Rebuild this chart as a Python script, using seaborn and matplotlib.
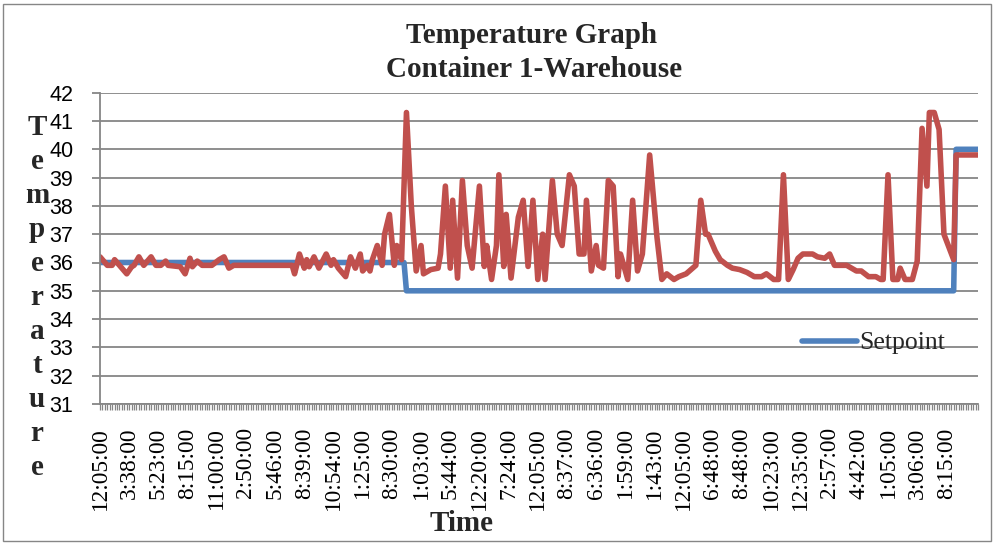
import matplotlib
matplotlib.use("Agg")
import matplotlib.pyplot as plt
from matplotlib.patches import Rectangle
import pandas as pd
import seaborn as sns

# ---- data -------------------------------------------------------------
time_labels = [
    "12:05:00", "3:38:00", "5:23:00", "8:15:00", "11:00:00", "2:50:00",
    "5:46:00", "8:39:00", "10:54:00", "1:25:00", "8:30:00", "1:03:00",
    "5:44:00", "12:20:00", "7:24:00", "12:05:00", "8:37:00", "6:36:00",
    "1:59:00", "1:43:00", "12:05:00", "6:48:00", "8:48:00", "10:23:00",
    "12:35:00", "2:57:00", "4:42:00", "1:05:00", "3:06:00", "8:15:00",
]
n_readings = 362          # readings on the category axis
label_every = 12          # one time label per 12 readings

# setpoint changes (reading number, degrees)
setpoint_reading = [0, 125, 126, 351, 352, 361]
setpoint_temp = [36, 36, 35, 35, 40, 40]

# logged container temperature (reading number, degrees)
temp_reading = [
    0, 3, 5, 6, 8, 11, 13, 14, 16, 18, 21, 23, 25, 27, 28, 33, 35, 37, 38, 40,
    42, 46, 49, 51, 53, 55, 79, 80, 82, 84, 85, 86, 88, 90, 93, 95, 96, 98,
    101, 103, 105, 107, 108, 110, 111, 112, 114, 116, 117, 119, 121, 122, 124,
    126, 128, 130, 132, 133, 136, 139, 140, 142, 144, 145, 147, 149, 151, 153,
    156, 158, 159, 161, 163, 164, 166, 167, 169, 172, 174, 176, 178, 180, 182,
    183, 186, 188, 190, 193, 195, 197, 199, 200, 202, 204, 205, 207, 209, 211,
    213, 214, 217, 219, 221, 223, 226, 229, 231, 233, 236, 238, 241, 245, 247,
    249, 250, 253, 255, 258, 260, 263, 266, 269, 272, 274, 277, 279, 281, 283,
    285, 287, 289, 293, 295, 298, 300, 302, 307, 309, 311, 313, 316, 319, 321,
    322, 324, 326, 328, 329, 331, 334, 336, 338, 340, 341, 343, 345, 347, 351,
    352, 361,
]
temp_value = [
    36.2, 35.9, 35.9, 36.1, 35.9, 35.6, 35.85, 35.9, 36.2, 35.9, 36.2, 35.9,
    35.9, 36.05, 35.9, 35.85, 35.6, 36.15, 35.85, 36.05, 35.9, 35.9, 36.1,
    36.2, 35.8, 35.9, 35.9, 35.6, 36.3, 35.8, 36.1, 35.85, 36.2, 35.8, 36.3,
    35.9, 36.1, 35.8, 35.5, 36.2, 35.8, 36.3, 35.7, 35.9, 35.7, 36.1, 36.6,
    35.9, 37.0, 37.7, 35.9, 36.6, 36.1, 41.3, 38.0, 35.7, 36.6, 35.6, 35.75,
    35.8, 36.3, 38.7, 35.8, 38.2, 35.45, 38.9, 36.6, 35.8, 38.7, 35.86, 36.6,
    35.4, 36.6, 39.1, 35.86, 37.7, 35.45, 37.6, 38.2, 35.86, 38.2, 35.4, 37.0,
    35.4, 38.9, 37.0, 36.6, 39.1, 38.7, 36.3, 36.3, 38.2, 35.7, 36.6, 35.9,
    35.8, 38.9, 38.7, 35.5, 36.3, 35.4, 38.2, 35.7, 36.3, 39.8, 36.9, 35.4,
    35.6, 35.4, 35.5, 35.6, 35.9, 38.2, 37.0, 37.0, 36.4, 36.1, 35.9, 35.8,
    35.75, 35.65, 35.5, 35.5, 35.6, 35.4, 35.4, 39.1, 35.4, 35.75, 36.15, 36.3,
    36.3, 36.2, 36.15, 36.3, 35.9, 35.9, 35.8, 35.7, 35.7, 35.5, 35.5, 35.4,
    35.4, 39.1, 35.4, 35.4, 35.8, 35.4, 35.4, 36.05, 40.74, 38.7, 41.3, 41.3,
    40.7, 37.0, 36.1, 39.8, 39.8,
]

y_ticks = list(range(31, 43))

# ---- style --------------------------------------------------------------
sns.set_theme(style="white")
plt.rcParams["font.family"] = ["Liberation Serif", "DejaVu Sans"]

W, H = 995, 544
fig = plt.figure(figsize=(W / 100, H / 100), dpi=100)
fig.patch.set_facecolor("white")


def fx(px):
    return px / W


def fy(py):
    return 1 - py / H


# plot area
left, right, top, bottom = 100, 978, 92.7, 404
ax = fig.add_axes([fx(left), fy(bottom), fx(right - left), (bottom - top) / H])
ax.set_facecolor("white")

grey = "#868686"
blue = "#4F81BD"
red = "#C0504D"

setpoint_df = pd.DataFrame({"reading": setpoint_reading, "temp": setpoint_temp})
temp_df = pd.DataFrame({"reading": temp_reading, "temp": temp_value})

sns.lineplot(data=setpoint_df, x="reading", y="temp", ax=ax, color=blue,
             lw=4.0, estimator=None, label="Setpoint", legend=False)
sns.lineplot(data=temp_df, x="reading", y="temp", ax=ax, color=red,
             lw=4.0, estimator=None, legend=False)
for ln in ax.lines:
    ln.set_solid_joinstyle("round")
    ln.set_solid_capstyle("round")

ax.set_xlim(0, n_readings - 1)
ax.set_ylim(31, 42)

# gridlines and spines
ax.yaxis.grid(True, color=grey, lw=1.3)
ax.xaxis.grid(False)
ax.set_axisbelow(True)
for side in ("top", "right"):
    ax.spines[side].set_visible(False)
for side in ("left", "bottom"):
    ax.spines[side].set_color(grey)
    ax.spines[side].set_linewidth(1.3)

# y axis
ax.set_yticks(y_ticks)
ax.set_yticklabels([str(v) for v in y_ticks], fontfamily="Liberation Sans",
                   fontsize=15.5, color="black")
ax.tick_params(axis="y", which="major", direction="out", length=5.8,
               width=1.3, color=grey, pad=13.5, left=True)

# x axis: a tick for every reading, a time label every 12 readings
label_pos = list(range(0, n_readings, label_every))[:len(time_labels)]
ax.set_xticks(label_pos)
ax.set_xticklabels(time_labels, rotation=90, fontfamily="Liberation Serif",
                   fontsize=16.8, color="black")
ax.set_xticks(list(range(n_readings)), minor=True)
ax.tick_params(axis="x", which="both", direction="out", length=4.3,
               width=0.9, color=grey, bottom=True)
ax.tick_params(axis="x", which="major", pad=12.5)
ax.set_xlabel("")
ax.set_ylabel("")

# legend (setpoint only)
handle = ax.lines[0]
ax.legend(handles=[handle], labels=["Setpoint"], loc="center left",
          bbox_to_anchor=(fx(802), fy(343)), bbox_transform=fig.transFigure,
          frameon=False, borderpad=0, borderaxespad=0, handlelength=2.15,
          handletextpad=0.08,
          prop={"family": "Liberation Serif", "size": 18.5})

# titles
fig.text(fx(532), fy(43), "Temperature Graph", ha="center", va="baseline",
         fontsize=21, fontweight="bold", family="Liberation Serif")
fig.text(fx(534), fy(77), "Container 1-Warehouse", ha="center", va="baseline",
         fontsize=21, fontweight="bold", family="Liberation Serif")

# stacked y-axis title
for k, ch in enumerate("Temperature"):
    fig.text(fx(37), fy(135 + 34 * k), ch, ha="center", va="baseline",
             fontsize=21, fontweight="bold", family="Liberation Serif")

# x-axis title
fig.text(fx(462), fy(531), "Time", ha="center", va="baseline",
         fontsize=21, fontweight="bold", family="Liberation Serif")

# chart border
fig.add_artist(Rectangle((fx(3.5), fy(540.5)), fx(988), (537) / H,
                         transform=fig.transFigure, fill=False,
                         ec=grey, lw=1.0))

fig.savefig("out.png", dpi=100, facecolor="white")
